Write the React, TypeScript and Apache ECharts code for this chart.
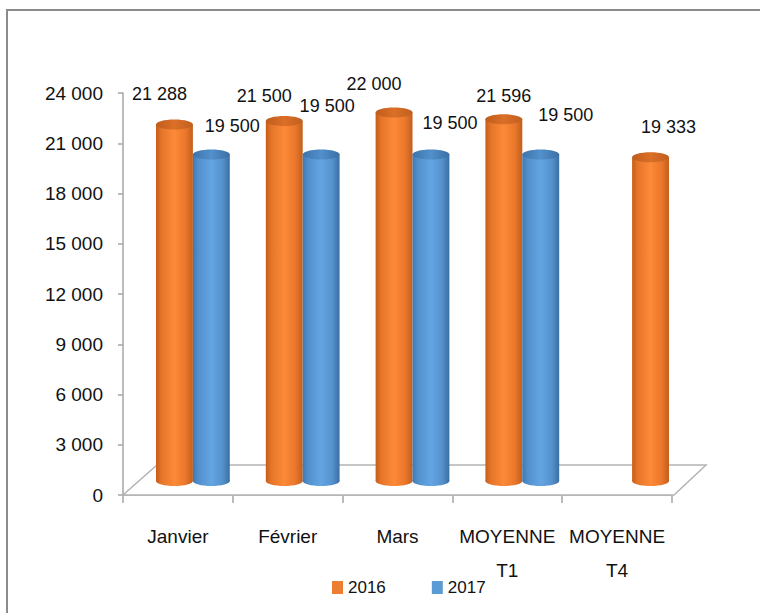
import React, { useEffect, useRef } from "react";
import * as echarts from "echarts";

const categories = ["Janvier", "Février", "Mars", "MOYENNE\nT1", "MOYENNE\nT4"];
const values2016: (number | null)[] = [21288, 21500, 22000, 21596, 19333];
const values2017: (number | null)[] = [19500, 19500, 19500, 19500, null];
const seriesNames = ["2016", "2017"];
const yMin = 0;
const yMax = 24000;
const yInterval = 3000;

// layout helpers (not data)
const slot2016 = [0, 0, 0, 0, 1];
const slot2017 = [1, 1, 1, 1, 1];
const labelOff2016: [number, number][] = [[-15, -30], [-20, -25], [-20, -29], [0, -23], [18, -30]];
const labelOff2017: [number, number][] = [[21, -28], [6, -48], [19, -31], [25, -39], [0, -30]];

const FONT = "'Liberation Sans', Arial, sans-serif";
const TEXT_COLOR = "#111111";
const DEPTH_X = 15;
const DEPTH_Y = -14;
const FLOOR_DX = 32;
const FLOOR_DY = -30;

const fmt = (v: number) => String(Math.round(v)).replace(/\B(?=(\d{3})+(?!\d))/g, " ");

const orangeBody = () =>
  new echarts.graphic.LinearGradient(0, 0, 1, 0, [
    { offset: 0, color: "#c65d18" },
    { offset: 0.15, color: "#e5752a" },
    { offset: 0.5, color: "#fd8a38" },
    { offset: 0.8, color: "#ea772b" },
    { offset: 1, color: "#c25f1c" },
  ]);
const orangeTop = () =>
  new echarts.graphic.LinearGradient(0, 0, 1, 0, [
    { offset: 0, color: "#bf5c1c" },
    { offset: 0.5, color: "#db6f27" },
    { offset: 1, color: "#c0601f" },
  ]);
const blueBody = () =>
  new echarts.graphic.LinearGradient(0, 0, 1, 0, [
    { offset: 0, color: "#3f79b3" },
    { offset: 0.15, color: "#5290cc" },
    { offset: 0.5, color: "#63a5e3" },
    { offset: 0.8, color: "#5592cc" },
    { offset: 1, color: "#3b6fa3" },
  ]);
const blueTop = () =>
  new echarts.graphic.LinearGradient(0, 0, 1, 0, [
    { offset: 0, color: "#3d74ab" },
    { offset: 0.5, color: "#5290cc" },
    { offset: 1, color: "#3b6fa3" },
  ]);

function makeRender(slots: number[], offs: [number, number][], body: () => any, top: () => any) {
  return (params: any, api: any) => {
    const cat = api.value(0);
    const val = api.value(1);
    const base = api.coord([cat, 0]);
    const tp = api.coord([cat, val]);
    const band = api.size([1, 0])[0];
    const w = band * 0.336;
    const cx = base[0] + DEPTH_X + (slots[cat] - 0.5) * w;
    const yb = base[1] + DEPTH_Y;
    const yt = tp[1] + DEPTH_Y;
    const ry = 5;
    const off = offs[cat];
    return {
      type: "group",
      children: [
        { type: "ellipse", shape: { cx, cy: yb, rx: w / 2, ry }, style: { fill: body() } },
        { type: "rect", shape: { x: cx - w / 2, y: yt, width: w, height: yb - yt }, style: { fill: body() } },
        { type: "ellipse", shape: { cx, cy: yt, rx: w / 2, ry }, style: { fill: top() } },
        {
          type: "text",
          x: cx + off[0],
          y: yt + off[1],
          z2: 50,
          style: {
            text: fmt(val),
            fontSize: 18,
            fontFamily: FONT,
            fill: TEXT_COLOR,
            align: "center",
            verticalAlign: "middle",
          },
        },
      ],
    };
  };
}

export default function App() {
  const ref = useRef<HTMLDivElement>(null);
  useEffect(() => {
    if (!ref.current) return;
    const chart = echarts.init(ref.current, undefined, { renderer: "svg" });
    const d2016 = values2016.map((v, i) => (v == null ? null : [i, v])).filter(Boolean);
    const d2017 = values2017.map((v, i) => (v == null ? null : [i, v])).filter(Boolean);
    chart.setOption({
      animation: false,
      backgroundColor: "#ffffff",
      textStyle: { fontFamily: FONT },
      grid: { left: 123, top: 93, width: 549, height: 402 },
      graphic: [
        {
          type: "rect",
          shape: { x: 7, y: 10, width: 800, height: 700 },
          style: { fill: "none", stroke: "#8c8c8c", lineWidth: 2 },
          silent: true,
        },
      ],
      legend: {
        data: seriesNames,
        left: 327,
        top: 574,
        itemWidth: 11,
        itemHeight: 13,
        itemGap: 46,
        icon: "rect",
        textStyle: { fontSize: 17, color: TEXT_COLOR, fontFamily: FONT },
      },
      xAxis: {
        type: "category",
        data: categories,
        axisLine: { show: true, lineStyle: { color: "#a6a6a6", width: 1.5 } },
        axisTick: { show: true, length: 8, lineStyle: { color: "#a6a6a6", width: 1.5 } },
        axisLabel: {
          interval: 0,
          fontSize: 19,
          lineHeight: 34,
          margin: 24,
          color: TEXT_COLOR,
          fontFamily: FONT,
        },
        splitLine: { show: false },
      },
      yAxis: {
        type: "value",
        min: yMin,
        max: yMax,
        interval: yInterval,
        axisLine: { show: true, lineStyle: { color: "#a6a6a6", width: 1.5 } },
        axisTick: { show: true, length: 5, lineStyle: { color: "#a6a6a6", width: 1.5 } },
        axisLabel: {
          fontSize: 19,
          margin: 20,
          color: TEXT_COLOR,
          fontFamily: FONT,
          formatter: (v: number) => fmt(v),
        },
        splitLine: { show: false },
      },
      series: [
        {
          type: "custom",
          name: "floor",
          silent: true,
          data: [[0, 0]],
          renderItem: (params: any) => {
            const cs = params.coordSys;
            const x0 = cs.x;
            const x1 = cs.x + cs.width + 2;
            const yb = cs.y + cs.height;
            return {
              type: "polygon",
              shape: {
                points: [
                  [x0, yb],
                  [x1, yb],
                  [x1 + FLOOR_DX, yb + FLOOR_DY],
                  [x0 + FLOOR_DX + 2, yb + FLOOR_DY],
                ],
              },
              style: { fill: "#ffffff", stroke: "#b4b4b4", lineWidth: 1.5 },
            };
          },
        },
        {
          type: "custom",
          name: "2016",
          itemStyle: { color: "#ED7D31" },
          data: d2016,
          encode: { x: 0, y: 1 },
          renderItem: makeRender(slot2016, labelOff2016, orangeBody, orangeTop),
        },
        {
          type: "custom",
          name: "2017",
          itemStyle: { color: "#5B9BD5" },
          data: d2017,
          encode: { x: 0, y: 1 },
          renderItem: makeRender(slot2017, labelOff2017, blueBody, blueTop),
        },
      ],
    });
    return () => chart.dispose();
  }, []);
  return (
    <div
      ref={ref}
      style={{ position: "absolute", left: 0, top: 0, width: 760, height: 613 }}
    />
  );
}
